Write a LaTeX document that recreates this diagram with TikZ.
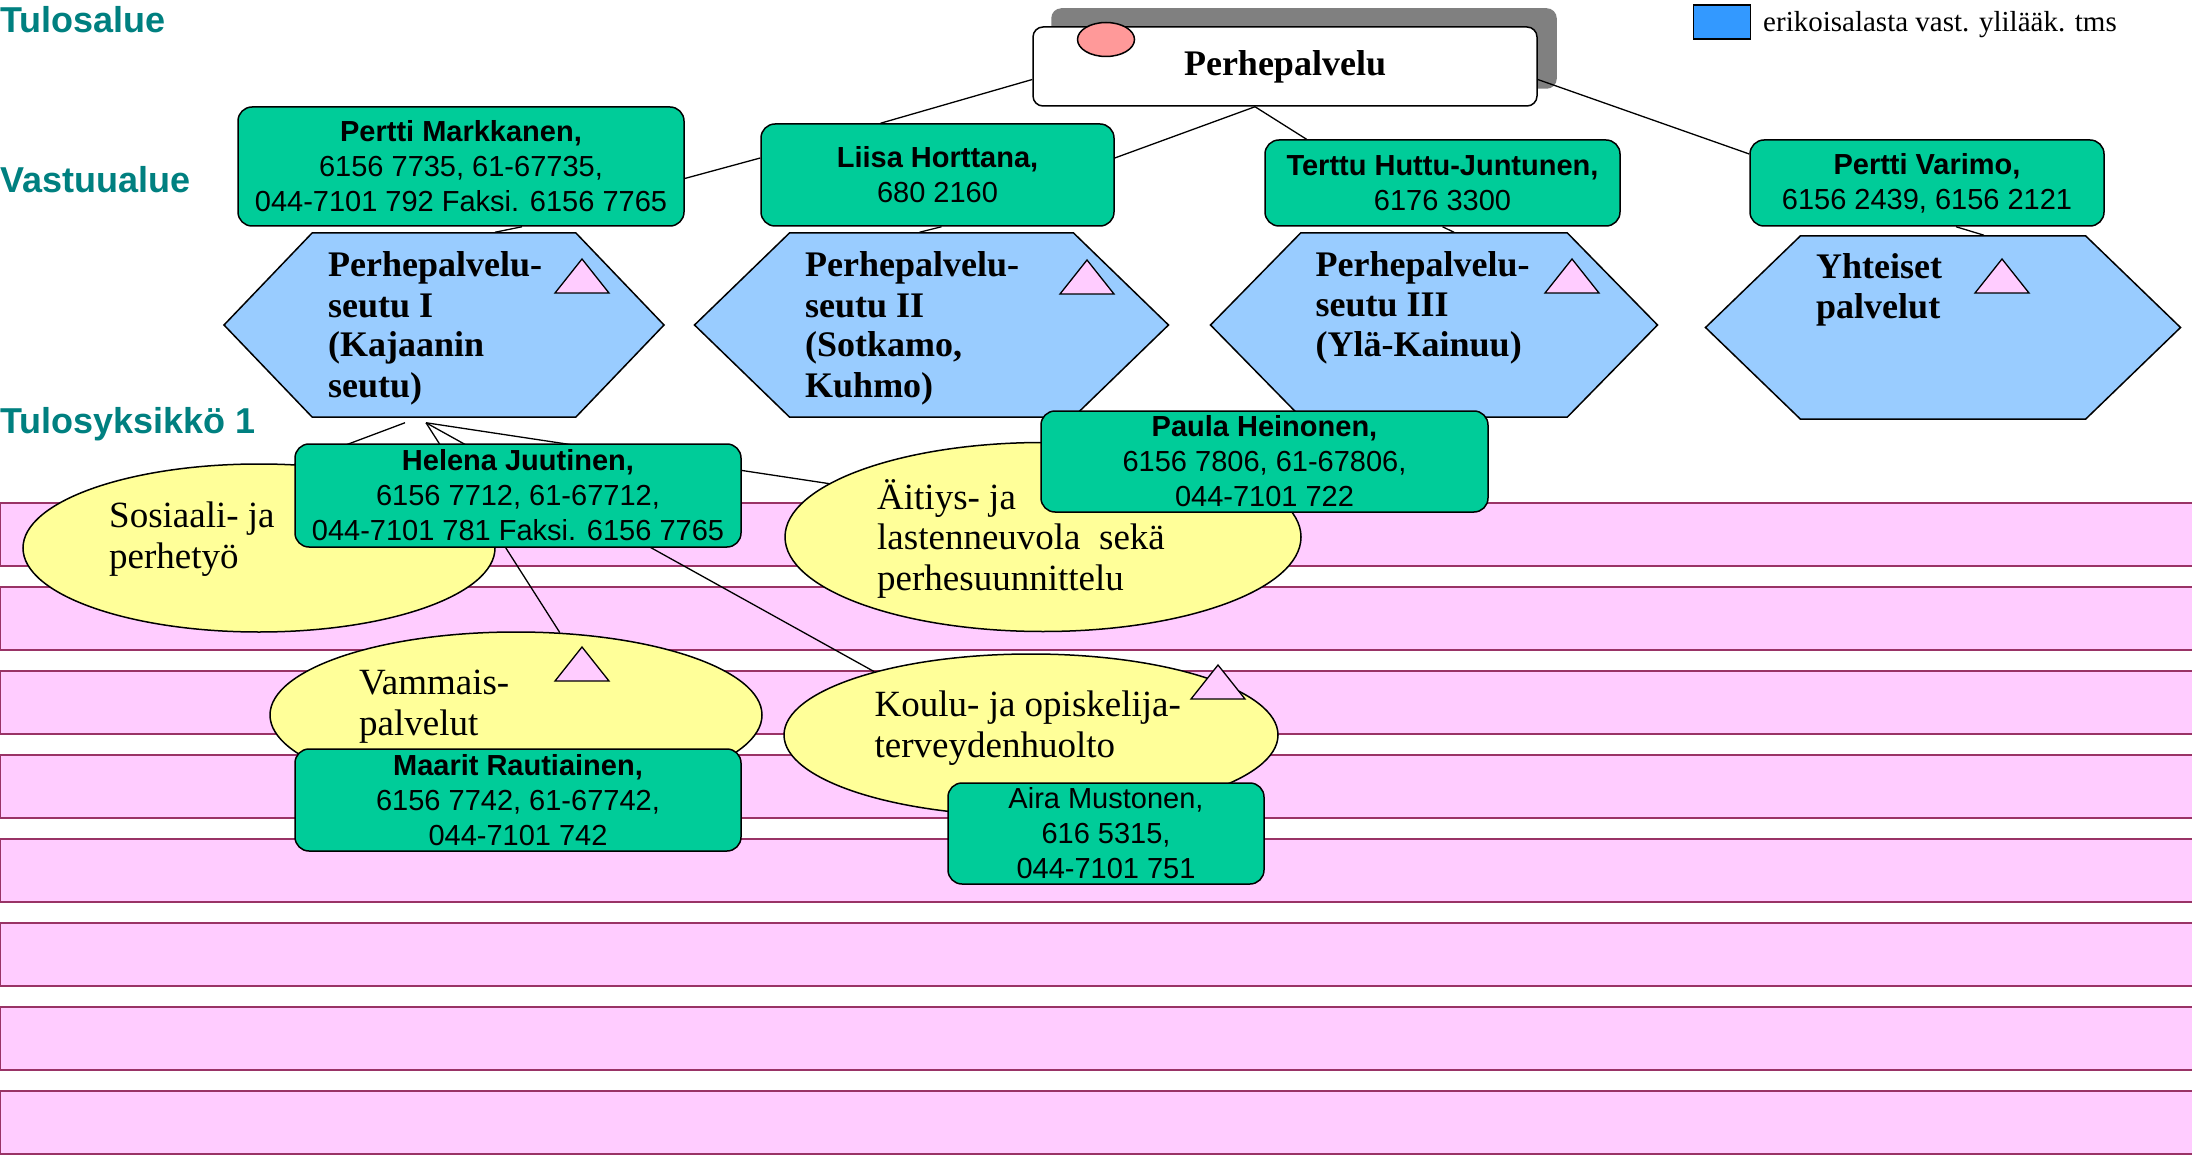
\documentclass[tikz,border=0pt]{standalone}
\usepackage{fontspec}
\setmainfont{Liberation Serif}
\setsansfont{Liberation Sans}
\usetikzlibrary{shapes.geometric,shapes.symbols,positioning}

\definecolor{headteal}{HTML}{008080}
\definecolor{boxgreen}{HTML}{00CC99}
\definecolor{hexblue}{HTML}{99CCFF}
\definecolor{ellyellow}{HTML}{FFFF99}
\definecolor{stripepink}{HTML}{FFCCFF}
\definecolor{stripeborder}{HTML}{993366}
\definecolor{markpink}{HTML}{FF9999}
\definecolor{legendblue}{HTML}{3399FF}
\definecolor{shadowgray}{HTML}{808080}

\pgfdeclarelayer{stripes}
\pgfdeclarelayer{edges}
\pgfsetlayers{stripes,edges,main}

\begin{document}
\begin{tikzpicture}[
    x=1pt, y=-1pt,
    every node/.style={inner sep=0pt},
    head/.style={anchor=base west, text=headteal, font=\sffamily\bfseries\fontsize{36}{40}\selectfont},
    person/.style={rectangle, rounded corners=14pt, draw, line width=1.5pt, fill=boxgreen,
      align=center, font=\sffamily\fontsize{29}{35}\selectfont},
    seutu/.style={signal, signal to=east and west, draw, line width=1.5pt, fill=hexblue,
      minimum height=184pt},
    seututxt/.style={anchor=base west, align=left, font=\bfseries\fontsize{36}{40}\selectfont},
    palvelu/.style={ellipse, draw, line width=1.5pt, fill=ellyellow},
    palvelutxt/.style={anchor=base west, align=left, font=\fontsize{37}{40.5}\selectfont},
    tri/.style={draw, line width=1.3pt, fill=stripepink},
    stripe/.style={draw=stripeborder, line width=2pt, fill=stripepink},
    link/.style={draw, line width=1.3pt}
  ]
  \useasboundingbox (0,0) rectangle (2192,1155);

  % Stripes
  \begin{pgfonlayer}{stripes}
    \foreach \k in {0,...,7}
      \draw[stripe] (0,{503+84*\k}) rectangle (2198,{566+84*\k});
  \end{pgfonlayer}

  % Headings
  \node[head] (tulosalue) at (0,33) {Tulosalue};
  \node[head] (vastuualue) at (0,193) {Vastuualue};
  \node[head] (tulosyksikko) at (0,433) {Tulosyksikkö 1};

  % Legend
  \node[rectangle, draw, line width=1.5pt, fill=legendblue, minimum width=57pt, minimum height=34pt]
    (legendbox) at (1722,22) {};
  \node[anchor=base west, font=\fontsize{29}{34}\selectfont] (legendtxt) at (1763,32)
    {erikoisalasta vast. ylilääk. tms};

  % Top
  \node[rectangle, rounded corners=10pt, draw, line width=1.5pt, fill=white,
    minimum width=504pt, minimum height=79pt, font=\bfseries\fontsize{36}{40}\selectfont]
    (perhe) at (1285,66.5) {Perhepalvelu};
  \node[ellipse, draw, line width=1.5pt, fill=markpink, minimum width=57pt, minimum height=34pt]
    (perhemark) at (1106,39.5) {};

  % Hexagons
  \node[seutu, minimum width=440pt, signal pointer angle=92.5] (seutu1) at (444,325) {};
  \node[seutu, minimum width=474pt, signal pointer angle=88.2] (seutu2) at (931.5,325) {};
  \node[seutu, minimum width=447pt, signal pointer angle=91.2] (seutu3) at (1434,325) {};
  \node[seutu, minimum width=475pt, signal pointer angle=88.0, minimum height=183pt]
    (yhteiset) at (1943,327.5) {};

  % Ellipses
  \node[palvelu, minimum width=472pt, minimum height=168pt] (sosiaali) at (259,548) {};
  \node[palvelu, minimum width=492pt, minimum height=166pt] (vammais) at (516,715) {};
  \node[palvelu, minimum width=516pt, minimum height=189pt] (aitiys) at (1043,537) {};
  \node[palvelu, minimum width=494pt, minimum height=162pt] (koulu) at (1031,735) {};

  % Persons
  \node[person, minimum width=446pt, minimum height=119pt] (mark) at (461,166.5)
    {{\bfseries Pertti Markkanen,}\\6156 7735, 61-67735,\\044-7101 792 Faksi. 6156 7765};
  \node[person, minimum width=353pt, minimum height=102pt] (liisa) at (937.5,175)
    {{\bfseries Liisa Horttana,}\\680 2160};
  \node[person, minimum width=355pt, minimum height=86pt] (terttu) at (1442.5,183)
    {{\bfseries Terttu Huttu-Juntunen,}\\6176 3300};
  \node[person, minimum width=354pt, minimum height=86pt] (varimo) at (1927,183)
    {{\bfseries Pertti Varimo,}\\6156 2439, 6156 2121};
  \node[person, minimum width=446pt, minimum height=103pt] (helena) at (518,495.5)
    {{\bfseries Helena Juutinen,}\\6156 7712, 61-67712,\\044-7101 781 Faksi. 6156 7765};
  \node[person, minimum width=447pt, minimum height=101pt] (paula) at (1264.5,461.5)
    {{\bfseries Paula Heinonen,}\\6156 7806, 61-67806,\\044-7101 722};
  \node[person, minimum width=446pt, minimum height=102pt] (maarit) at (518,800)
    {{\bfseries Maarit Rautiainen,}\\6156 7742, 61-67742,\\044-7101 742};
  \node[person, minimum width=316pt, minimum height=101pt] (aira) at (1106,833.5)
    {Aira Mustonen,\\616 5315,\\044-7101 751};

  % Texts in the hexagons and ellipses (base = last line)
  \node[seututxt] (seutu1txt) at (328,397) {Perhepalvelu-\\seutu I\\(Kajaanin\\seutu)};
  \node[seututxt] (seutu2txt) at (805,397) {Perhepalvelu-\\seutu II\\(Sotkamo,\\Kuhmo)};
  \node[seututxt] (seutu3txt) at (1315.5,357) {Perhepalvelu-\\seutu III\\(Ylä-Kainuu)};
  \node[seututxt] (yhteisettxt) at (1816,319) {Yhteiset\\palvelut};
  \node[palvelutxt] (sosiaalitxt) at (109,568) {Sosiaali- ja\\perhetyö};
  \node[palvelutxt] (vammaistxt) at (359,735) {Vammais-\\palvelut};
  \node[palvelutxt] (aitiystxt) at (877,590) {Äitiys- ja\\lastenneuvola\ \ sekä\\perhesuunnittelu};
  \node[palvelutxt] (koulutxt) at (874.5,757) {Koulu- ja opiskelija-\\terveydenhuolto};

  % Triangles
  \foreach \ax/\ay in {582/259, 1087/260, 1572/259, 2002/259, 582/647, 1218/665}
    \draw[tri] (\ax,\ay) -- ++(27,34) -- ++(-54,0) -- cycle;

  % Shadow of the top box
  \begin{pgfonlayer}{stripes}
    \fill[shadowgray, rounded corners=10pt] ([xshift=19pt,yshift=18pt]perhe.south west)
      rectangle ([xshift=19pt,yshift=18pt]perhe.north east);
  \end{pgfonlayer}

  \begin{pgfonlayer}{edges}
    % Edges for Perhepalvelu
    \draw[link] ([yshift=-13pt]perhe.west) -- ([xshift=-57pt]liisa.north);
    \draw[link] ([yshift=-12pt]mark.east) -- ([yshift=17pt]liisa.west);
    \draw[link] ([yshift=17pt]liisa.east) -- ([xshift=-30pt]perhe.south);
    \draw[link] ([xshift=-30pt]perhe.south) -- ([xshift=-136pt]terttu.north);
    \draw[link] ([yshift=-13pt]perhe.east) -- ([yshift=29pt]varimo.west);

    % Edges to the hexagons
    \draw[link] ([xshift=61pt]mark.south) -- ([xshift=51pt]seutu1.north);
    \draw[link] ([xshift=4pt]liisa.south) -- ([xshift=-12pt]seutu2.north);
    \draw[link] (terttu.south) -- ([xshift=20pt]seutu3.north);
    \draw[link] ([xshift=29pt]varimo.south) -- ([xshift=41pt]yhteiset.north);

    % Edges for seutu I
    \draw[link] ([xshift=-39pt,yshift=-5pt]seutu1.south) -- (sosiaali.67);
    \draw[link] ([xshift=-18pt,yshift=-5pt]seutu1.south) -- (vammais.62);
    \draw[link] ([xshift=-18pt,yshift=-5pt]seutu1.south) -- (aitiys.166);
    \draw[link] ([xshift=-18pt,yshift=-5pt]seutu1.south) -- (koulu.158);
  \end{pgfonlayer}

\end{tikzpicture}
\end{document}
